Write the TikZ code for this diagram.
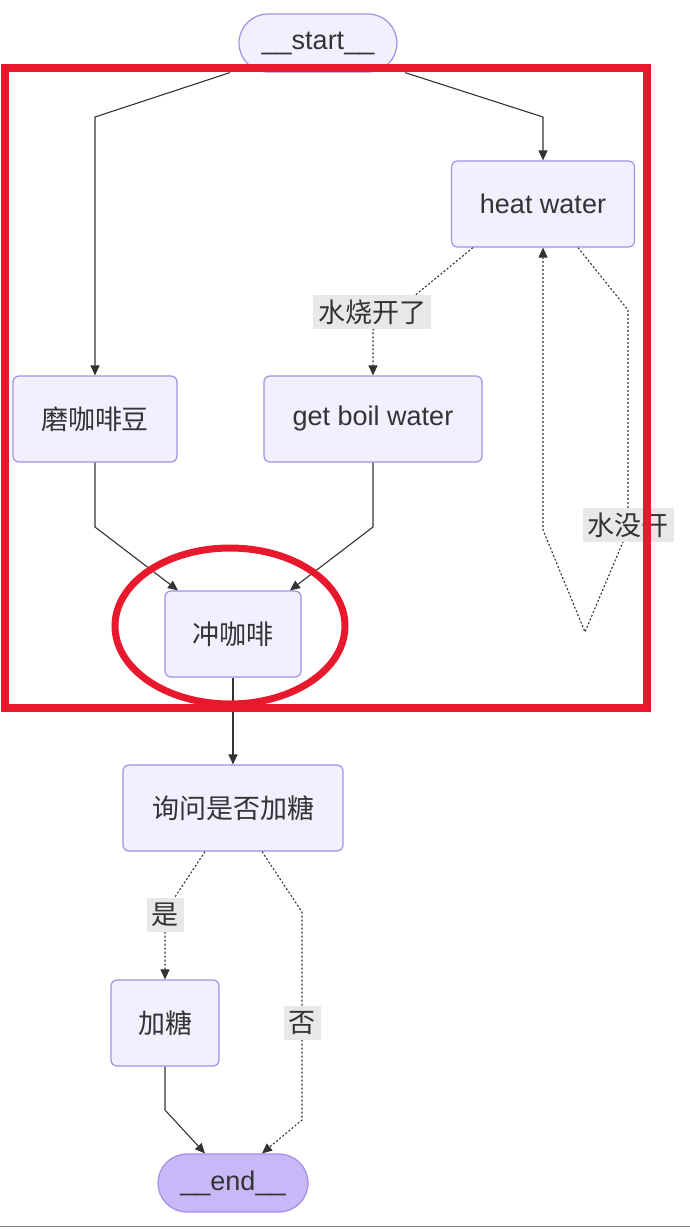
\documentclass[tikz,border=0pt]{standalone}
\usepackage{fontspec}
\setmainfont{Liberation Sans}
\newfontfamily\cjk{Noto Sans CJK SC}
\usetikzlibrary{arrows.meta,positioning,shapes,calc}
\definecolor{boxfill}{HTML}{F2F0FF}
\definecolor{boxline}{HTML}{A58EE8}
\definecolor{endfill}{HTML}{C7B8F8}
\definecolor{edge}{HTML}{333333}
\definecolor{lblfill}{HTML}{E8E8E8}
\definecolor{hired}{HTML}{E8192C}
\begin{document}
\begin{tikzpicture}[x=1pt, y=-1pt,
    box/.style = {draw=boxline, fill=boxfill, rounded corners=6pt, minimum height=86pt, font=\fontsize{27}{30}\selectfont, text=edge, line width=1.2pt},
    term/.style = {draw=boxline, fill=boxfill, rounded corners=29pt, minimum height=58pt, font=\fontsize{27}{30}\selectfont, text=edge, line width=1.2pt},
    flow/.style = {-{Triangle[length=10pt,width=9pt]}, edge, line width=1.1pt},
    cond/.style = {flow, dash pattern=on 2pt off 2pt},
    lbl/.style = {fill=lblfill, font=\fontsize{27}{30}\selectfont, text=edge, inner sep=5pt}]
    \useasboundingbox (0,0) rectangle (690,1229);
    \node[term, minimum width=158pt] (start) at (318,43) {\_\_start\_\_};
    \node[box, minimum width=183pt] (heat) at (543,204) {heat water};
    \node[box, minimum width=164pt] (grind) at (95,419) {\cjk 磨咖啡豆};
    \node[box, minimum width=218pt] (boil) at (373,419) {get boil water};
    \node[box, minimum width=136pt] (brew) at (233,634) {\cjk 冲咖啡};
    \node[box, minimum width=220pt] (ask) at (233,808) {\cjk 询问是否加糖};
    \node[box, minimum width=108pt] (sugar) at (165,1023) {\cjk 加糖};
    \node[term, minimum width=150pt, fill=endfill] (end) at (233,1183) {\_\_end\_\_};
    % connectors
    \draw[flow] ($(start.south)+(-88,0)$) -- (95,117) -- (grind);
    \draw[flow] ($(start.south)+(87,0)$) -- (543,117) -- (heat);
    \draw[cond] ($(heat.south)+(-70,0)$) -- (373,330) -- (boil);
    \node[lbl] (boiled) at (372,312) {\cjk 水烧开了};
    \draw[cond] ($(heat.south)+(35,0)$) -- (628,310) -- (628,530) -- (585,632) -- (543,530) -- (heat.south);
    \node[lbl] (notboiled) at (628,525) {\cjk 水没开};
    \draw[flow] (grind.south) -- (95,527) -- ($(brew.north)+(-55,0)$);
    \draw[flow] (boil.south) -- (373,527) -- ($(brew.north)+(57,0)$);
    \draw[flow] (brew) -- (ask);
    \draw[cond] ($(ask.south)+(-28,0)$) -- (165,912) -- (sugar);
    \node[lbl] (yes) at (165,915) {\cjk 是};
    \draw[cond] ($(ask.south)+(29,0)$) -- (302,912) -- (302,1120) -- ($(end.north)+(29,0)$);
    \node[lbl] (no) at (302,1023) {\cjk 否};
    \draw[flow] (sugar.south) -- (165,1110) -- ($(end.north)+(-28,0)$);
    % highlight
    \draw[hired, line width=8pt] (5,68) rectangle (647,708);
    \draw[hired, line width=7pt] (230,626) ellipse (115 and 78);
    \draw[gray, line width=1pt] (0,1226) -- (690,1226);
\end{tikzpicture}
\end{document}
